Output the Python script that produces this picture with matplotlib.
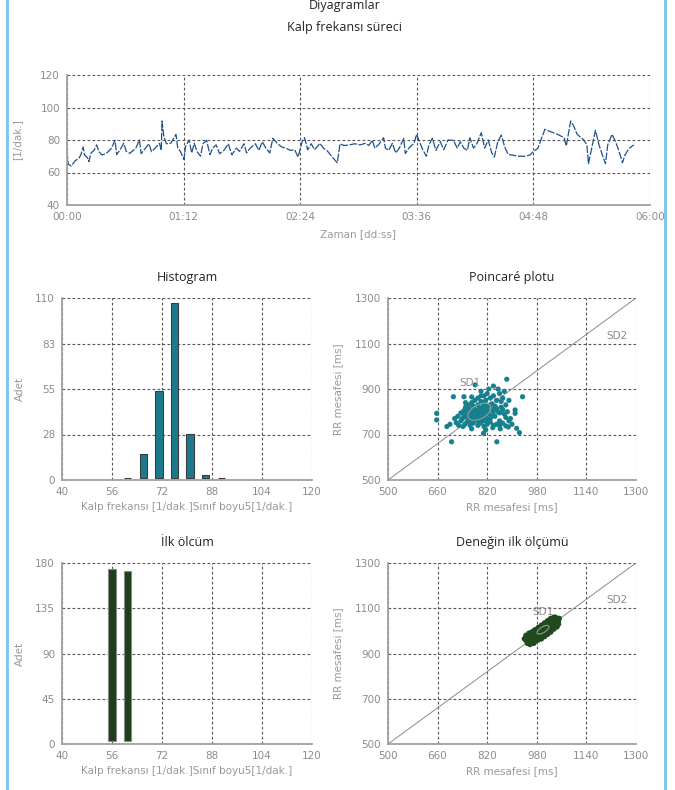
import matplotlib
matplotlib.use('Agg')
import matplotlib.pyplot as plt
from matplotlib.lines import Line2D
from matplotlib.patches import Ellipse
import numpy as np

# heart rate course (seconds, 1/min)
hr_sec = [0, 0.8, 2.7, 4.8, 7.5, 8.6, 10.0, 10.8, 12.7, 13.5, 14.8, 16.7, 18.3, 19.7, 21.5, 24.2,
          27.5, 29.6, 30.7, 32.8, 35.0, 36.6, 38.8, 42.5, 44.7, 45.8, 48.5, 50.6, 52.2, 54.4, 57.1,
          58.2, 58.7, 59.8, 61.4, 64.1, 67.3, 68.4, 70.0, 72.2, 73.2, 75.4, 77.0, 78.6, 80.2, 82.4,
          84.0, 86.2, 88.3, 89.9, 92.1, 94.2, 96.9, 99.6, 101.8, 104.5, 106.6, 109.3, 110.9, 113.1,
          116.3, 118.5, 120.6, 122.8, 125.2, 127.1, 129.8, 132.5, 135.2, 137.9, 140.6, 142.7, 145.4,
          146.7, 148.6, 150.8, 152.9, 156.2, 158.3, 160.5, 164.2, 166.9, 168.6, 171.0, 174.5, 177.7,
          180.9, 184.4, 186.3, 188.5, 190.1, 192.3, 195.5, 196.6, 198.7, 200.9, 203.0, 205.2, 207.9,
          208.9, 211.1, 214.3, 215.9, 217.6, 219.7, 221.9, 223.5, 225.6, 227.8, 230.5, 232.6, 235.3,
          238.6, 241.0, 242.9, 245.0, 247.2, 248.8, 251.0, 253.1, 255.8, 257.9, 260.1, 262.3, 263.9,
          266.0, 268.2, 270.3, 272.5, 274.6, 278.7, 282.7, 285.9, 288.1, 290.8, 295.1, 298.9, 302.9,
          307.0, 308.3, 311.0, 312.9, 315.0, 319.1, 321.0, 322.0, 323.6, 326.3, 328.5, 331.2, 332.5,
          333.9, 336.6, 338.7, 340.9, 343.0, 344.6, 347.3, 350.0]
hr_val = [73, 65, 64, 67, 69, 71, 75.7, 70.8, 69, 66.7, 72, 73.6, 77, 73, 70.8, 71.6,
          75, 79.8, 71, 74, 78, 73, 71.8, 75, 80, 71.6, 75, 77.7, 72.8, 75, 78,
          73.6, 91.7, 82, 77.7, 78, 83.5, 75, 73, 68, 76, 80, 72, 78, 73, 70,
          77.7, 79.8, 71, 75, 77, 71.6, 73.6, 77.7, 70.8, 75, 73, 77.7, 72, 75,
          77.7, 73.6, 79, 75, 72, 81, 78, 75.7, 75, 73.6, 74, 69.5, 79.8,
          81.4, 74, 77.7, 74, 78, 75, 73.6, 69, 66, 77.7, 76.6, 77, 77.7,
          77, 78, 76.6, 79.8, 75, 77, 81.4, 75, 73.6, 78, 72, 75, 81,
          71.6, 75, 78, 83.5, 79, 74, 70, 77, 81, 73.6, 79, 74, 80,
          79.8, 75, 79, 75, 73.6, 81.4, 75, 77.7, 84.5, 75, 80, 72, 69.5,
          79, 83, 75.7, 71, 70.8, 70, 70, 70.8, 73, 75, 86.6, 85, 83.5,
          81.4, 76.3, 91.7, 88.6, 83.5, 80, 77, 65.4, 73, 86, 77, 69, 65.4,
          77, 83.5, 79, 73, 66, 71, 75, 77]
time_ticks = [0, 72, 144, 216, 288, 360]
time_labels = ['00:00', '01:12', '02:24', '03:36', '04:48', '06:00']

# histogram (class width 5)
hist_centers = [61, 66, 71, 76, 81, 86, 91]
hist_counts = [1.5, 16, 53.5, 107, 28, 3, 1]
first_centers = [56, 61]
first_counts = [174, 172.5]

# Poincare plot, current measurement
rr_x = [657, 657, 705, 711, 883, 934, 915, 924, 851, 910, 910, 781, 840, 808, 745, 720, 728, 700, 690,
        740, 745, 750, 755, 760, 765, 770, 775, 780, 785, 790, 795, 800, 805, 810, 815, 820, 825, 830, 835,
        760, 770, 780, 790, 800, 810, 820, 830, 840, 850, 860, 870, 880, 890, 845, 855, 865, 875, 885, 895,
        750, 760, 770, 780, 790, 800, 810, 820, 830, 840, 850, 860, 870, 875, 855, 825, 800, 790, 805, 815,
        835, 845, 760, 745, 735, 725, 735, 715, 748, 765, 790, 810, 838, 862, 888, 900, 780, 785, 795, 775,
        765, 755, 790, 800, 810, 820, 830, 840, 850, 860, 870, 880, 890, 865, 820, 835, 805, 795, 775, 755,
        742, 770, 815, 860, 880, 750, 770, 800, 815,
        775, 780, 785, 790, 795, 770, 765, 782, 788, 798, 772, 778, 792, 760, 803]
rr_y = [793, 764, 668, 866, 943, 866, 727, 708, 668, 808, 793, 918, 913, 705, 866, 752, 740, 745, 735,
        770, 780, 790, 775, 800, 785, 770, 795, 810, 780, 800, 790, 775, 820, 795, 780, 805, 790, 770, 810,
        760, 755, 765, 760, 750, 760, 745, 755, 740, 745, 740, 750, 738, 760, 780, 800, 820, 790, 800, 770,
        820, 830, 840, 850, 860, 845, 870, 880, 860, 870, 850, 880, 860, 890, 900, 900, 890, 830, 840, 850,
        835, 825, 815, 805, 795, 780, 760, 770, 745, 740, 740, 735, 730, 725, 733, 745, 790, 805, 815, 825,
        800, 810, 775, 800, 810, 820, 830, 800, 815, 795, 810, 830, 850, 845, 765, 780, 770, 760, 750, 755,
        735, 725, 720, 760, 775, 840, 865, 870, 830,
        785, 778, 792, 785, 798, 790, 780, 800, 770, 782, 808, 765, 775, 795, 788]

# Poincare plot, first measurement of the subject
rr0_x = [940, 945, 948, 952, 955, 958, 960, 962, 965, 968, 970, 972, 975, 978, 980, 982, 985, 988, 990,
         992, 995, 998, 1000, 1002, 1005, 1008, 1010, 1012, 1015, 1018, 1020, 1022, 1025, 1028, 1030, 1032,
         1035, 1038, 1040, 1042, 1045, 1048, 1050, 1052, 950, 962, 975, 985, 995, 1005, 1015, 1025, 1035,
         1045, 945, 955, 965, 975, 985, 995, 1005, 1015, 1025, 1035, 968, 978, 988, 998, 1008, 1018, 1028,
         1038, 1000, 990, 980, 970, 960, 1010, 1020, 1030, 958, 970, 1040, 1050]
rr0_y = [965, 958, 972, 960, 975, 950, 968, 980, 958, 972, 985, 962, 978, 990, 965, 982, 995, 972, 988,
         1000, 978, 995, 1008, 985, 1000, 1015, 992, 1008, 1022, 1000, 1015, 1030, 1010, 1025, 1038, 1018,
         1032, 1045, 1025, 1040, 1050, 1035, 1045, 1055, 945, 948, 955, 960, 965, 975, 985, 995, 1008,
         1018, 980, 990, 995, 1005, 1015, 1025, 1035, 1045, 1055, 1060, 950, 962, 980, 1012, 990, 1030, 1040,
         1022, 1020, 1005, 995, 1000, 985, 1025, 1040, 1050, 940, 945, 1060, 1030]

rr_ticks_x = [500, 660, 820, 980, 1140, 1300]
rr_ticks_y = [500, 700, 900, 1100, 1300]

W, H = 675, 790
fig = plt.figure(figsize=(W / 100, H / 100), dpi=100)
fig.patch.set_facecolor('white')

TICK_C = '#8c8c8c'
GRID_C = '#555555'
TITLE_FONT = ['Open Sans', 'DejaVu Sans']


def box(l, t, r, b):
    return [l / W, 1 - b / H, (r - l) / W, (b - t) / H]


def style(ax):
    for s in ['top', 'right']:
        ax.spines[s].set_visible(False)
    for s in ['left', 'bottom']:
        ax.spines[s].set_color('#a0a0a0')
        ax.spines[s].set_linewidth(1.3)
    ax.grid(True, color=GRID_C, linestyle=(0, (2.5, 2)), linewidth=0.8)
    ax.set_axisbelow(True)
    ax.tick_params(length=0, labelsize=7.5, labelcolor=TICK_C, pad=5)
    ax.xaxis.label.set_color('#999999')
    ax.yaxis.label.set_color('#999999')


def title(ax, text, pad):
    ax.set_title(text, fontsize=9, color='#222222', family=TITLE_FONT, pad=pad)


# heart rate course
ax = fig.add_axes(box(67, 75, 650, 205))
style(ax)
ax.plot(hr_sec, hr_val, color='#1f5289', linewidth=0.9, linestyle=(0, (6, 1.3)))
ax.set_xlim(0, 360)
ax.set_ylim(40, 120)
ax.set_xticks(time_ticks)
ax.set_xticklabels(time_labels)
ax.set_yticks([40, 60, 80, 100, 120])
ax.set_xlabel('Zaman [dd:ss]', fontsize=7.5, labelpad=5)
ax.set_ylabel('[1/dak.]', fontsize=7.5)
ax.yaxis.set_label_coords(-0.077, 0.5)

fig.text(0.51, 1 - 6 / H, 'Diyagramlar', ha='center', va='center', fontsize=9,
         color='#222222', family=TITLE_FONT)
fig.text(0.51, 1 - 27 / H, 'Kalp frekansı süreci', ha='center', va='center', fontsize=9,
         color='#222222', family=TITLE_FONT)


def hist_axes(pos, centers, counts, color, edge, ymax, yticks, ylabels, ttl, lift):
    ax = fig.add_axes(pos)
    style(ax)
    # bars float a little above the base line, as in the original software
    heights = np.array(counts) - lift
    ax.bar(centers, heights, width=2.4, bottom=lift, color=color, edgecolor=edge, linewidth=0.8)
    ax.set_xlim(40, 120)
    ax.set_ylim(0, ymax)
    ax.set_xticks([40, 56, 72, 88, 104, 120])
    ax.set_yticks(yticks)
    ax.set_yticklabels(ylabels)
    ax.set_xlabel('Kalp frekansı [1/dak.]Sınıf boyu5[1/dak.]', fontsize=7.5, labelpad=4)
    ax.set_ylabel('Adet', fontsize=7.5)
    ax.yaxis.set_label_coords(-0.148, 0.5)
    title(ax, ttl, 12)
    return ax


def poincare_axes(pos, xs, ys, color, size, ttl, ell):
    ax = fig.add_axes(pos)
    style(ax)
    ax.plot([500, 1300], [500, 1300], color='#8a8a8a', linewidth=0.7, zorder=2)
    ax.scatter(xs, ys, s=size, color=color, edgecolors='none', zorder=3)
    cx, cy, w, h = ell
    ax.add_patch(Ellipse((cx, cy), w, h, angle=45, fill=False, edgecolor='#9a9a9a',
                         linewidth=0.8, zorder=4))
    ax.set_xlim(500, 1300)
    ax.set_ylim(500, 1300)
    ax.set_xticks(rr_ticks_x)
    ax.set_yticks(rr_ticks_y)
    ax.set_xlabel('RR mesafesi [ms]', fontsize=7.5, labelpad=4)
    ax.set_ylabel('RR mesafesi [ms]', fontsize=7.5)
    ax.yaxis.set_label_coords(-0.181, 0.5)
    title(ax, ttl, 12)
    return ax


hist_axes(box(62, 298, 312, 480), hist_centers, hist_counts, '#1b7b8c', '#3c3c3c', 110,
          [0, 27.5, 55, 82.5, 110], ['0', '28', '55', '83', '110'], 'Histogram', 1)

ax = poincare_axes(box(388, 298, 636, 480), rr_x, rr_y, '#17808f', 14, 'Poincaré plotu',
                   (795, 800, 90, 55))
ax.text(765, 925, 'SD1', fontsize=7.5, color='#8c8c8c', ha='center', va='center', zorder=5)
ax.text(1240, 1135, 'SD2', fontsize=7.5, color='#8c8c8c', ha='center', va='center')

hist_axes(box(62, 563, 312, 744), first_centers, first_counts, '#1c3f1c', '#8a8a8a', 180,
          [0, 45, 90, 135, 180], ['0', '45', '90', '135', '180'], 'İlk ölcüm', 3)

ax = poincare_axes(box(388, 563, 636, 744), rr0_x, rr0_y, '#1e4a1e', 16, 'Deneğin ilk ölçümü',
                   (1000, 1005, 50, 22))
ax.text(1000, 1085, 'SD1', fontsize=7.5, color='#8c8c8c', ha='center', va='center', zorder=5)
ax.text(1240, 1135, 'SD2', fontsize=7.5, color='#8c8c8c', ha='center', va='center')

# light blue frame lines at left and right
for xp in [7, 665]:
    fig.add_artist(Line2D([xp / W, xp / W], [0, 1], color='#74c6ef', linewidth=2))

fig.savefig('out.png', dpi=100)
